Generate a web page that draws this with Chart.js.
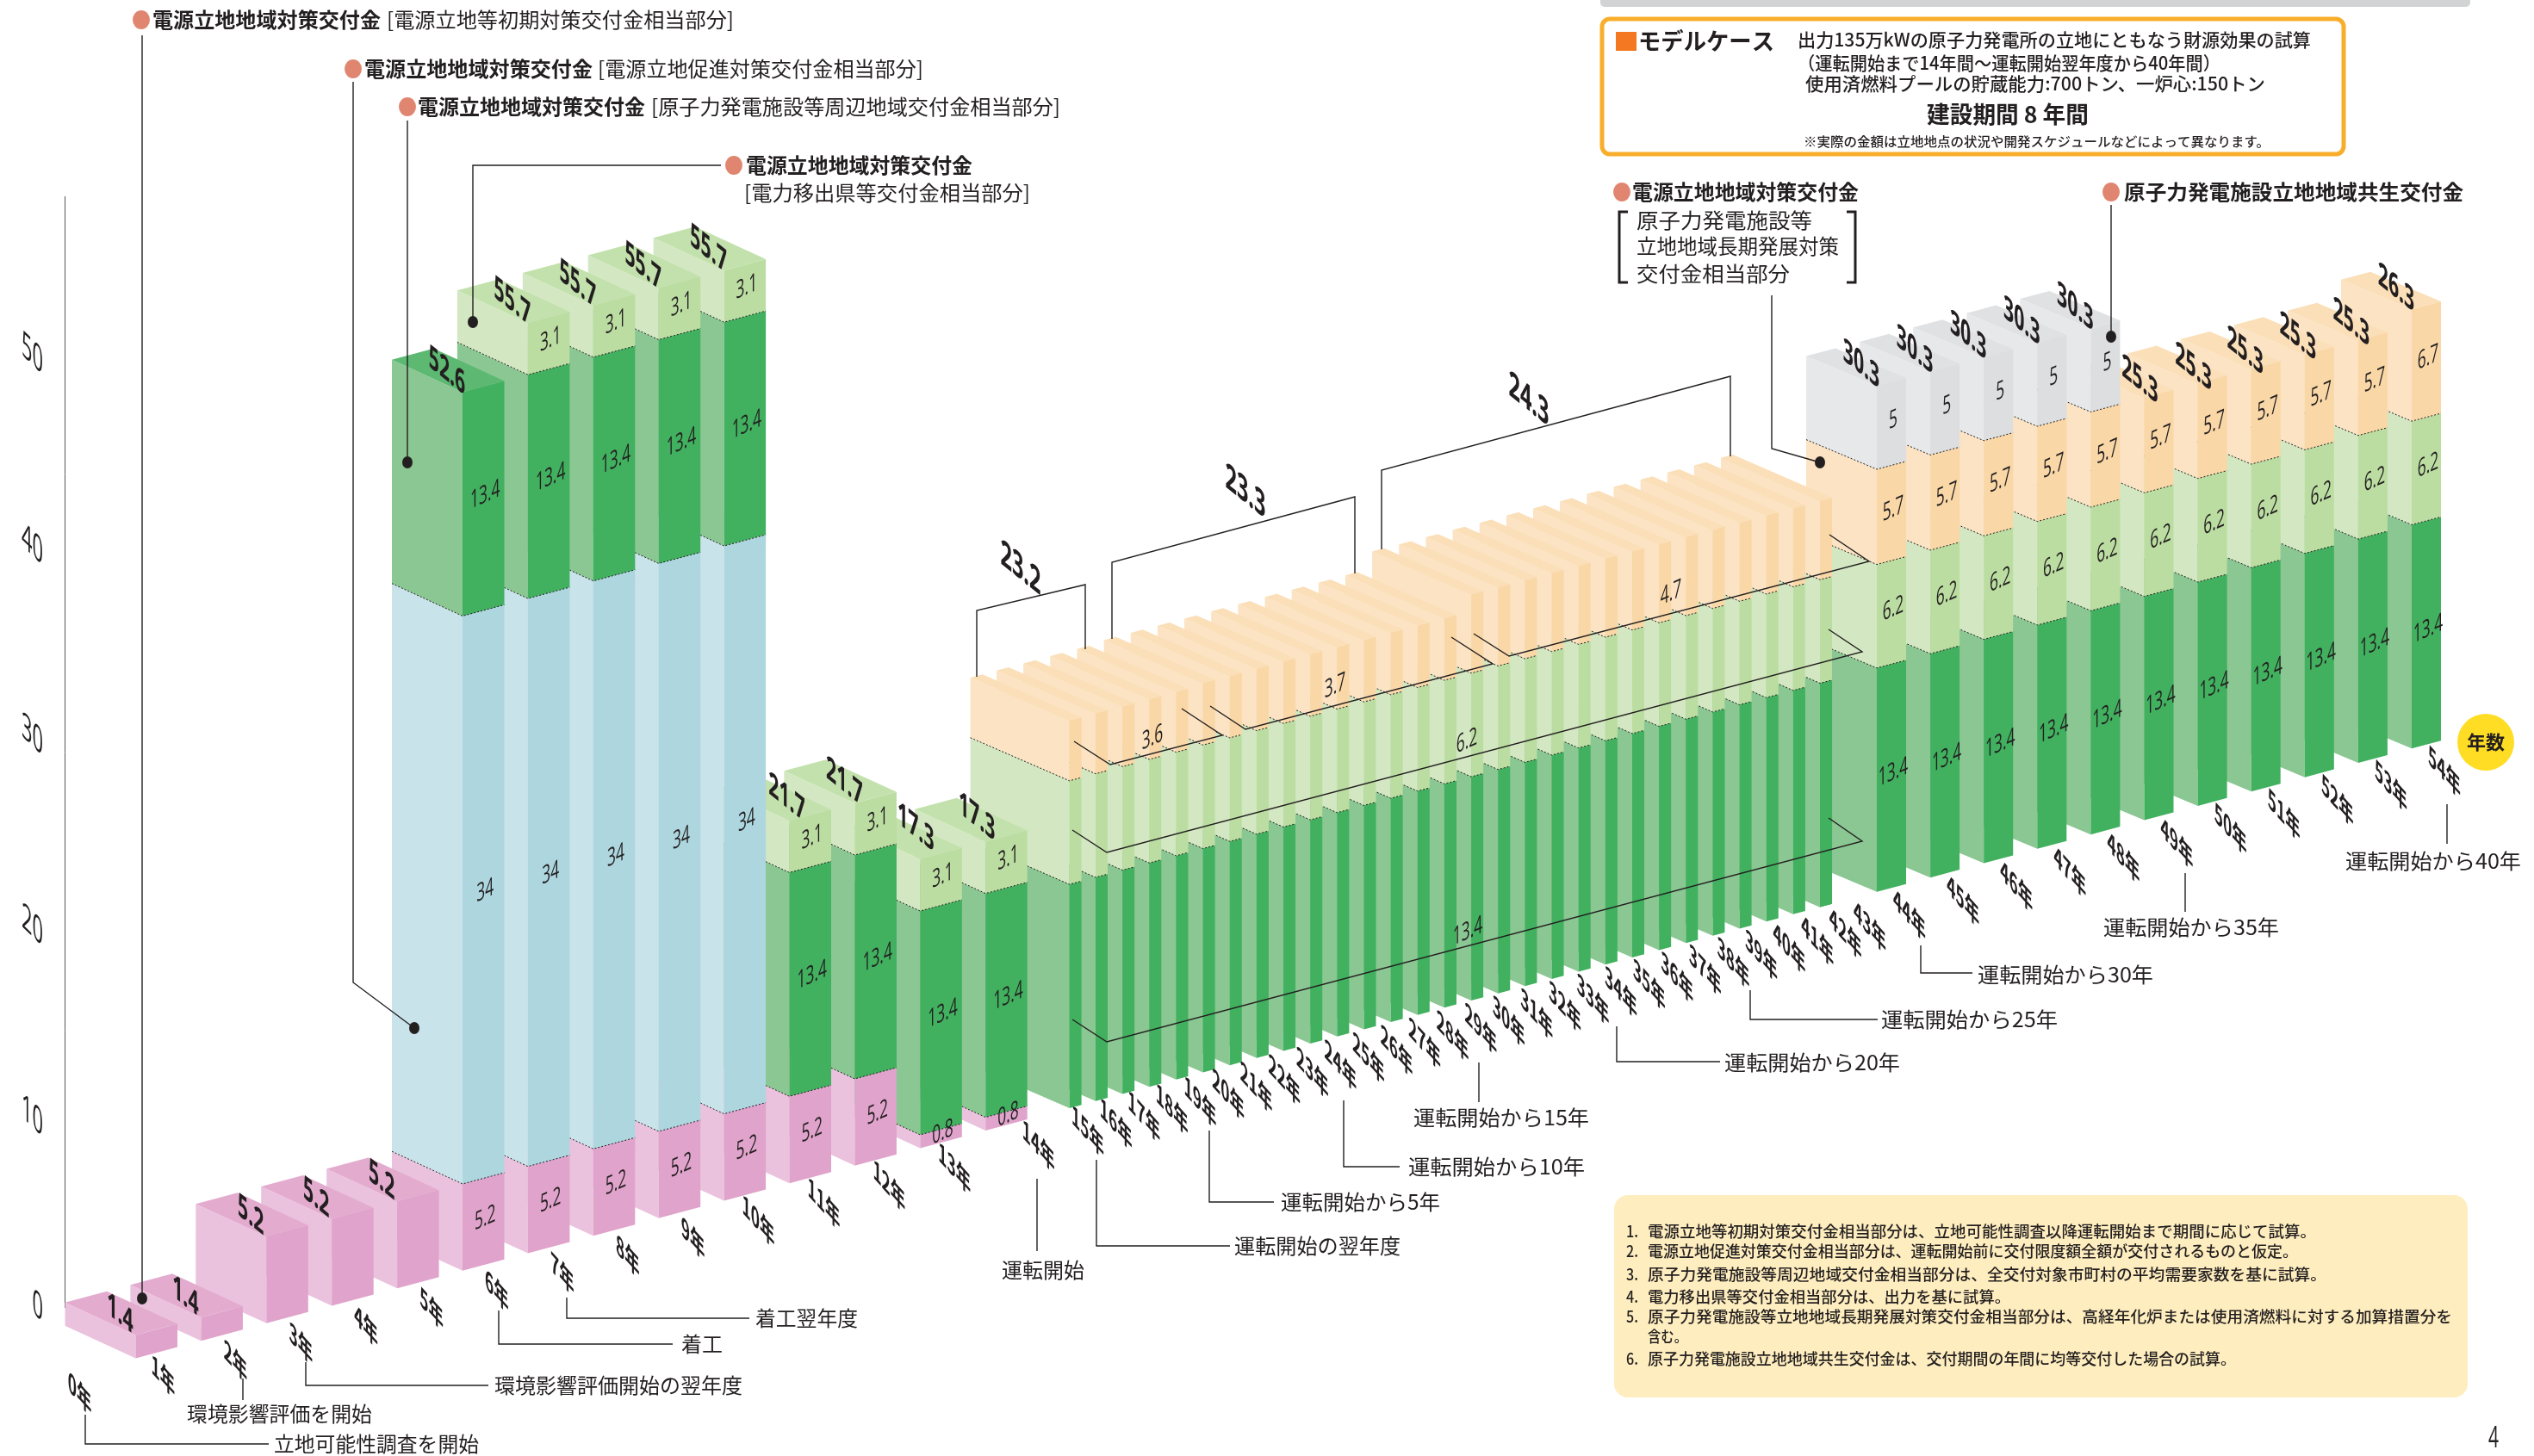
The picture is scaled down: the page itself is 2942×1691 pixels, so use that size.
<!DOCTYPE html>
<html lang="ja">
<head>
<meta charset="utf-8">
<title>モデルケース</title>
<script src="https://cdn.jsdelivr.net/npm/chart.js@4/dist/chart.umd.min.js"></script>
<style>
  html,body{margin:0;padding:0;background:#fff;overflow:hidden}
  canvas{display:block}
</style>
</head>
<body>
<canvas id="grantChart" width="2942" height="1691"></canvas>
<script>
const years = ['0年','1年','2年','3年','4年','5年','6年','7年','8年','9年','10年','11年','12年','13年','14年','15年','16年','17年','18年','19年','20年','21年','22年','23年','24年','25年','26年','27年','28年','29年','30年','31年','32年','33年','34年','35年','36年','37年','38年','39年','40年','41年','42年','43年','44年','45年','46年','47年','48年','49年','50年','51年','52年','53年','54年'];

// 億円 per year, bottom of the stack first
const initialGrant = [1.4,1.4,5.2,5.2,5.2,5.2,5.2,5.2,5.2,5.2,5.2,5.2,0.8,0.8,0,0,0,0,0,0,0,0,0,0,0,0,0,0,0,0,0,0,0,0,0,0,0,0,0,0,0,0,0,0,0,0,0,0,0,0,0,0,0,0,0];
const promotionGrant = [0,0,0,0,0,34,34,34,34,34,0,0,0,0,0,0,0,0,0,0,0,0,0,0,0,0,0,0,0,0,0,0,0,0,0,0,0,0,0,0,0,0,0,0,0,0,0,0,0,0,0,0,0,0,0];
const surroundingGrant = [0,0,0,0,0,13.4,13.4,13.4,13.4,13.4,13.4,13.4,13.4,13.4,13.4,13.4,13.4,13.4,13.4,13.4,13.4,13.4,13.4,13.4,13.4,13.4,13.4,13.4,13.4,13.4,13.4,13.4,13.4,13.4,13.4,13.4,13.4,13.4,13.4,13.4,13.4,13.4,13.4,13.4,13.4,13.4,13.4,13.4,13.4,13.4,13.4,13.4,13.4,13.4,13.4];
const exportGrant = [0,0,0,0,0,0,3.1,3.1,3.1,3.1,3.1,3.1,3.1,3.1,6.2,6.2,6.2,6.2,6.2,6.2,6.2,6.2,6.2,6.2,6.2,6.2,6.2,6.2,6.2,6.2,6.2,6.2,6.2,6.2,6.2,6.2,6.2,6.2,6.2,6.2,6.2,6.2,6.2,6.2,6.2,6.2,6.2,6.2,6.2,6.2,6.2,6.2,6.2,6.2,6.2];
const longTermGrant = [0,0,0,0,0,0,0,0,0,0,0,0,0,0,3.6,3.6,3.6,3.6,3.6,3.7,3.7,3.7,3.7,3.7,3.7,3.7,3.7,3.7,3.7,4.7,4.7,4.7,4.7,4.7,4.7,4.7,4.7,4.7,4.7,4.7,4.7,4.7,4.7,4.7,5.7,5.7,5.7,5.7,5.7,5.7,5.7,5.7,5.7,5.7,6.7];
const coexistGrant = [0,0,0,0,0,0,0,0,0,0,0,0,0,0,0,0,0,0,0,0,0,0,0,0,0,0,0,0,0,0,0,0,0,0,0,0,0,0,0,0,0,0,0,0,5,5,5,5,5,0,0,0,0,0,0];
const axisTicks = [0,10,20,30,40,50];

const RISE = 0.268; // the floor climbs to the right
const SANS = '"Noto Sans CJK JP"';
const NUM = '"Open Sans"';
const INK = '#231f20';

// slot geometry along the floor, the year axis is not evenly spaced
const zones = [
  {first:0, last:13, start:82.5, step:75.9, depth:82, width:48.5, drop:.46, labelled:true},
  {first:14, last:14, start:1166.6, step:0, depth:115, width:14, drop:.435},
  {first:15, last:42, start:1197, step:31.15, depth:115, width:14, drop:.435},
  {first:43, last:43, start:2038, step:0, depth:115, width:14, drop:.435},
  {first:44, last:54, start:2104, step:62.1, depth:82, width:34, drop:.42, labelled:true}
];
const zoneOf = i => zones.find(z => i >= z.first && i <= z.last);

// hand placed shifts of the lid totals, [dx, dy] by year
const lidNudge = {10:[15,-2],11:[6,0],12:[13,-12],13:[8,-4],49:[13,4],50:[13,6],51:[11,4],52:[10,4],53:[10,4]};

class SlotScale extends Chart.CategoryScale {
  getPixelForValue(value){
    const i = typeof value === 'number' ? value : this.parse(value);
    const z = zoneOf(i);
    return this.left + z.start + z.step * (i - z.first);
  }
}
SlotScale.id = 'slot';
SlotScale.defaults = Chart.CategoryScale.defaults;
Chart.register(SlotScale);

function skewText(ctx, text, cx, cy, font, a, b, color){
  ctx.save();
  ctx.setTransform(a, b, 0, 1, cx, cy);
  ctx.font = font;
  ctx.fillStyle = color || INK;
  ctx.textAlign = 'center';
  ctx.textBaseline = 'middle';
  ctx.fillText(text, 0, 0);
  ctx.restore();
}

// flat text squeezed to run exactly from x to x2
function fitText(ctx, text, x, x2, y, font, color){
  ctx.save();
  ctx.font = font;
  const w = ctx.measureText(text).width;
  ctx.setTransform((x2 - x) / w, 0, 0, 1, x, y);
  ctx.fillStyle = color || INK;
  ctx.textAlign = 'left';
  ctx.textBaseline = 'middle';
  ctx.fillText(text, 0, 0);
  ctx.restore();
}

function poly(ctx, pts, fill){
  ctx.beginPath();
  pts.forEach((p, i) => i ? ctx.lineTo(p[0], p[1]) : ctx.moveTo(p[0], p[1]));
  ctx.closePath();
  ctx.fillStyle = fill;
  ctx.fill();
}

function line(ctx, pts, w){
  ctx.beginPath();
  pts.forEach((p, i) => i ? ctx.lineTo(p[0], p[1]) : ctx.moveTo(p[0], p[1]));
  ctx.strokeStyle = INK;
  ctx.lineWidth = w || 1.4;
  ctx.stroke();
}

function dot(ctx, x, y, rx, ry, color){
  ctx.beginPath();
  ctx.ellipse(x, y, rx, ry, 0, 0, Math.PI * 2);
  ctx.fillStyle = color;
  ctx.fill();
}

function yearLabelPos(i, x, floor){
  if(i <= 14){
    if(i === 0) return [x - 65, floor + 40];
    if(i === 1) return [x - 44, floor + 40];
    return [x - 36, floor + 43];
  }
  // 43 shares its slot with 42 but keeps its own label place
  if(i === 43) return [x + 27 + 31, floor + 22];
  if(i <= 42) return [x - 9 + 1.43 * (i - 15), floor + 34 - .15 * (i - 15)];
  return [x + 38, floor + 26];
}

const prismPlugin = {
  id:'prisms',
  beforeDatasetsDraw(chart){
    const ctx = chart.ctx;
    const xs = chart.scales.x;
    const x0 = xs.getPixelForValue(0);
    const lift = x => (x - x0) * RISE;
    const sets = chart.data.datasets;

    // back to front so the near bars cover the far ones
    for(let i = years.length - 1; i >= 0; i--){
      const z = zoneOf(i);
      let topSet = -1;
      sets.forEach((s, d) => { if(s.data[i] > 0) topSet = d; });
      sets.forEach((s, d) => {
        if(!(s.data[i] > 0)) return;
        const el = chart.getDatasetMeta(d).data[i];
        const x = el.x, up = lift(x);
        const yb = el.base - up, yt = el.y - up;
        const w = z.width, dp = z.depth, dr = dp * z.drop, wr = w * RISE;
        poly(ctx, [[x-dp,yb-dr],[x,yb],[x,yt],[x-dp,yt-dr]], s.leftColor);
        poly(ctx, [[x,yb],[x+w,yb-wr],[x+w,yt-wr],[x,yt]], s.backgroundColor);
        if(d === topSet){
          poly(ctx, [[x,yt],[x+w,yt-wr],[x+w-dp,yt-wr-dr],[x-dp,yt-dr]], s.topColor);
        }
        if(el.base !== chart.scales.y.getPixelForValue(0)){
          ctx.save();
          ctx.setLineDash([2,2]);
          line(ctx, [[x-dp,yb-dr],[x,yb],[x+w,yb-wr]], 1);
          ctx.restore();
        }
      });
    }

    // values on the faces, totals on the lids, years on the floor
    for(let i = 0; i < years.length; i++){
      const z = zoneOf(i);
      const x = xs.getPixelForValue(i), floor = chart.scales.y.getPixelForValue(0) - lift(x);
      const total = +sets.reduce((t, s) => t + s.data[i], 0).toFixed(1);
      const totalTop = chart.scales.y.getPixelForValue(total) - lift(x);
      if(z.labelled){
        const n = lidNudge[i] || [0, 0];
        skewText(ctx, String(total), x - 18 + n[0], totalTop - 24 + n[1], '700 38px ' + NUM, .56, .45);
        if(i >= 5){
          sets.forEach((s, d) => {
            if(!(s.data[i] > 0)) return;
            const el = chart.getDatasetMeta(d).data[i];
            const cx = x + z.width / 2 + 2;
            const cy = (el.y + el.base) / 2 - lift(x) - z.width / 2 * RISE - 4;
            skewText(ctx, String(s.data[i]), cx, cy, '500 29px ' + NUM, .6, -RISE);
          });
        }
      }
      const p = yearLabelPos(i, x, floor);
      skewText(ctx, xs.getLabelForValue(i), p[0], p[1], '700 31px ' + SANS, .56, .62);
    }

    // the axis numbers
    const ya = chart.scales.yAxis;
    ya.ticks.forEach(t => {
      const f = '400 42px ' + NUM;
      ctx.font = f;
      const tw = ctx.measureText(String(t.value)).width * .52;
      skewText(ctx, String(t.value), 50 - tw / 2, ya.getPixelForValue(t.value), f, .52, .5);
    });
    return false;
  },
  afterDraw(chart){
    const ctx = chart.ctx;
    const bold = '700 24px ' + SANS, reg = '400 24px ' + SANS;

    // header strip and model case box
    ctx.fillStyle = '#d1d3d4';
    ctx.beginPath(); ctx.roundRect(1858, -8, 1010, 16, 5); ctx.fill();
    ctx.fillStyle = '#fff'; ctx.strokeStyle = '#f9ae2b'; ctx.lineWidth = 5;
    ctx.beginPath(); ctx.roundRect(1870 - 10, 22, 861, 157, 9); ctx.fill(); ctx.stroke();
    ctx.fillStyle = '#f47721'; ctx.fillRect(1876, 37, 24, 22);
    fitText(ctx, 'モデルケース', 1902, 2060, 48, '700 27px ' + SANS);
    fitText(ctx, '出力135万kWの原子力発電所の立地にともなう財源効果の試算', 2087, 2683, 46, '500 21px ' + SANS);
    fitText(ctx, '（運転開始まで14年間〜運転開始翌年度から40年間）', 2087, 2578, 73, '500 21px ' + SANS);
    fitText(ctx, '使用済燃料プールの貯蔵能力:700トン、一炉心:150トン', 2096, 2630, 97, '500 21px ' + SANS);
    fitText(ctx, '建設期間 8 年間', 2237, 2425, 133, '700 27px ' + SANS);
    fitText(ctx, '※実際の金額は立地地点の状況や開発スケジュールなどによって異なります。', 2094, 2635, 164, '500 15px ' + SANS);

    // grant callouts
    const salmon = '#e08670';
    dot(ctx, 164, 23, 10, 11, salmon);
    fitText(ctx, '電源立地地域対策交付金', 177, 442, 23, bold);
    fitText(ctx, '[電源立地等初期対策交付金相当部分]', 449, 852, 23, reg);
    line(ctx, [[165,41],[165,1508]]); dot(ctx, 165, 1508, 6, 7, INK);

    dot(ctx, 410, 80, 10, 11, salmon);
    fitText(ctx, '電源立地地域対策交付金', 423, 688, 80, bold);
    fitText(ctx, '[電源立地促進対策交付金相当部分]', 694, 1072, 80, reg);
    line(ctx, [[410,95],[410,1141],[481,1194]]); dot(ctx, 481, 1194, 6, 7, INK);

    dot(ctx, 473, 124, 10, 11, salmon);
    fitText(ctx, '電源立地地域対策交付金', 485, 749, 124, bold);
    fitText(ctx, '[原子力発電施設等周辺地域交付金相当部分]', 756, 1231, 124, reg);
    line(ctx, [[473,140],[473,537]]); dot(ctx, 473, 537, 6, 7, INK);

    dot(ctx, 852, 192, 10, 11, salmon);
    fitText(ctx, '電源立地地域対策交付金', 866, 1129, 192, bold);
    fitText(ctx, '[電力移出県等交付金相当部分]', 864, 1196, 224, reg);
    line(ctx, [[837,192],[549,192],[549,374]]); dot(ctx, 549, 374, 6, 7, INK);

    dot(ctx, 1883, 223, 10, 11, salmon);
    fitText(ctx, '電源立地地域対策交付金', 1895, 2158, 223, bold);
    fitText(ctx, '原子力発電施設等', 1900, 2104, 256, reg);
    fitText(ctx, '立地地域長期発展対策', 1900, 2135, 286, reg);
    fitText(ctx, '交付金相当部分', 1900, 2078, 318, reg);
    line(ctx, [[1890,246],[1880,246],[1880,328],[1890,328]], 3);
    line(ctx, [[2144,246],[2154,246],[2154,328],[2144,328]], 3);
    line(ctx, [[2057,343],[2057,521],[2113,537]]); dot(ctx, 2113, 537, 6, 7, INK);

    dot(ctx, 2451, 223, 10, 11, salmon);
    fitText(ctx, '原子力発電施設立地地域共生交付金', 2466, 2860, 223, bold);
    line(ctx, [[2451,238],[2451,391]]); dot(ctx, 2451, 391, 6, 7, INK);

    // group brackets over the narrow years
    line(ctx, [[1134,786],[1134,709],[1260,679],[1260,754]]);
    line(ctx, [[1291,742],[1291,653],[1573,577],[1573,666]]);
    line(ctx, [[1604,638],[1604,546],[2009,437],[2009,530]]);
    const big = '700 42px ' + NUM, small = '500 29px ' + NUM;
    skewText(ctx, '23.2', 1185, 661, big, .56, .45);
    skewText(ctx, '23.3', 1446, 572, big, .56, .45);
    skewText(ctx, '24.3', 1775, 465, big, .56, .45);

    line(ctx, [[1247,861],[1289,888],[1419,854],[1372,823]]);
    line(ctx, [[1405,820],[1446,847],[1733,771],[1685,740]]);
    line(ctx, [[1711,736],[1752,762],[2170,652],[2124,621]]);
    line(ctx, [[1245,964],[1285,990],[2162,757],[2123,731]]);
    line(ctx, [[1245,1184],[1285,1210],[2162,977],[2123,950]]);
    skewText(ctx, '3.6', 1338, 857, small, .6, -RISE);
    skewText(ctx, '3.7', 1550, 797, small, .6, -RISE);
    skewText(ctx, '4.7', 1940, 689, small, .6, -RISE);
    skewText(ctx, '6.2', 1703, 861, small, .6, -RISE);
    skewText(ctx, '13.4', 1704, 1082, small, .6, -RISE);

    // milestones under the years
    const ms = reg;
    line(ctx, [[99,1643],[99,1677],[312,1677]]);
    fitText(ctx, '立地可能性調査を開始', 318, 556, 1677, ms);
    line(ctx, [[282,1601],[282,1626]]);
    fitText(ctx, '環境影響評価を開始', 217, 432, 1642, ms);
    line(ctx, [[355,1582],[355,1609],[567,1609]]);
    fitText(ctx, '環境影響評価開始の翌年度', 574, 862, 1609, ms);
    line(ctx, [[579,1522],[579,1561],[781,1561]]);
    fitText(ctx, '着工', 791, 839, 1561, ms);
    line(ctx, [[658,1507],[658,1531],[870,1531]]);
    fitText(ctx, '着工翌年度', 877, 996, 1531, ms);
    line(ctx, [[1204,1369],[1204,1453]]);
    fitText(ctx, '運転開始', 1163, 1259, 1475, ms);
    line(ctx, [[1273,1347],[1273,1447],[1428,1447]]);
    fitText(ctx, '運転開始の翌年度', 1433, 1626, 1447, ms);
    line(ctx, [[1404,1313],[1404,1396],[1479,1396]]);
    fitText(ctx, '運転開始から5年', 1487, 1672, 1396, ms);
    line(ctx, [[1560,1278],[1560,1355],[1625,1355]]);
    fitText(ctx, '運転開始から10年', 1635, 1840, 1355, ms);
    line(ctx, [[1717,1234],[1717,1280]]);
    fitText(ctx, '運転開始から15年', 1641, 1845, 1298, ms);
    line(ctx, [[1877,1192],[1877,1233],[1997,1233]]);
    fitText(ctx, '運転開始から20年', 2002, 2206, 1234, ms);
    line(ctx, [[2032,1150],[2032,1184],[2180,1184]]);
    fitText(ctx, '運転開始から25年', 2184, 2389, 1184, ms);
    line(ctx, [[2230,1098],[2230,1130],[2290,1130]]);
    fitText(ctx, '運転開始から30年', 2296, 2500, 1132, ms);
    line(ctx, [[2537,1014],[2537,1059]]);
    fitText(ctx, '運転開始から35年', 2442, 2646, 1077, ms);
    line(ctx, [[2841,934],[2841,980]]);
    fitText(ctx, '運転開始から40年', 2723, 2927, 1000, ms);

    dot(ctx, 2886, 862, 33, 33, '#ffdd24');
    skewText(ctx, '年数', 2886, 862, '700 22px ' + SANS, 1, 0);

    // notes
    ctx.fillStyle = '#feedbe';
    ctx.beginPath(); ctx.roundRect(1874, 1388, 991, 235, 16); ctx.fill();
    const note = '500 18px ' + SANS;
    const notes = [
      ['1.', '電源立地等初期対策交付金相当部分は、立地可能性調査以降運転開始まで期間に応じて試算。', 2689, 1430],
      ['2.', '電源立地促進対策交付金相当部分は、運転開始前に交付限度額全額が交付されるものと仮定。', 2668, 1453],
      ['3.', '原子力発電施設等周辺地域交付金相当部分は、全交付対象市町村の平均需要家数を基に試算。', 2701, 1480],
      ['4.', '電力移出県等交付金相当部分は、出力を基に試算。', 2334, 1506],
      ['5.', '原子力発電施設等立地地域長期発展対策交付金相当部分は、高経年化炉または使用済燃料に対する加算措置分を', 2847, 1529],
      ['', '含む。', 1959, 1552],
      ['6.', '原子力発電施設立地地域共生交付金は、交付期間の年間に均等交付した場合の試算。', 2596, 1578]
    ];
    notes.forEach(n => {
      if(n[0]) fitText(ctx, n[0], 1888, 1902, n[3], note);
      fitText(ctx, n[1], 1913, n[2], n[3], note);
    });
    skewText(ctx, '4', 2895, 1671, '400 34px ' + NUM, .62, 0);
  }
};

const stack = (label, data, right, left, top) => ({
  label, data, backgroundColor:right, leftColor:left, topColor:top,
  xAxisID:'x', yAxisID:'y', stack:'grant', barThickness:1
});

new Chart(document.getElementById('grantChart').getContext('2d'), {
  type:'bar',
  data:{
    labels:years,
    datasets:[
      stack('電源立地等初期対策交付金相当部分', initialGrant, '#e0a3cb', '#eac2dd', '#e3accf'),
      stack('電源立地促進対策交付金相当部分', promotionGrant, '#add6df', '#c9e3eb', '#bbdde5'),
      stack('原子力発電施設等周辺地域交付金相当部分', surroundingGrant, '#41b05f', '#8ac792', '#5db872'),
      stack('電力移出県等交付金相当部分', exportGrant, '#bbdda2', '#d3e8c2', '#c3e1ac'),
      stack('原子力発電施設等立地地域長期発展対策交付金相当部分', longTermGrant, '#f9d7a7', '#fbe3c3', '#fbdfb8'),
      stack('原子力発電施設立地地域共生交付金', coexistGrant, '#dcdee0', '#e6e8ea', '#dfe1e3')
    ]
  },
  options:{
    responsive:false,
    devicePixelRatio:1,
    animation:false,
    events:[],
    layout:{padding:{left:75, top:228, right:0, bottom:173}},
    plugins:{legend:{display:false}, tooltip:{enabled:false}},
    scales:{
      x:{type:'slot', display:false},
      // bars use a tighter scale than the printed axis numbers
      y:{type:'linear', stacked:true, display:false, min:3.07, max:69.57},
      yAxis:{
        type:'linear', position:'left', min:0, max:58.3,
        grid:{display:false},
        border:{display:true, dash:[3,4], color:'#555', width:1},
        ticks:{display:false},
        afterFit:s => { s.width = 0; },
        afterBuildTicks:s => { s.ticks = axisTicks.map(v => ({value:v})); }
      }
    }
  },
  plugins:[prismPlugin]
});
</script>
</body>
</html>
